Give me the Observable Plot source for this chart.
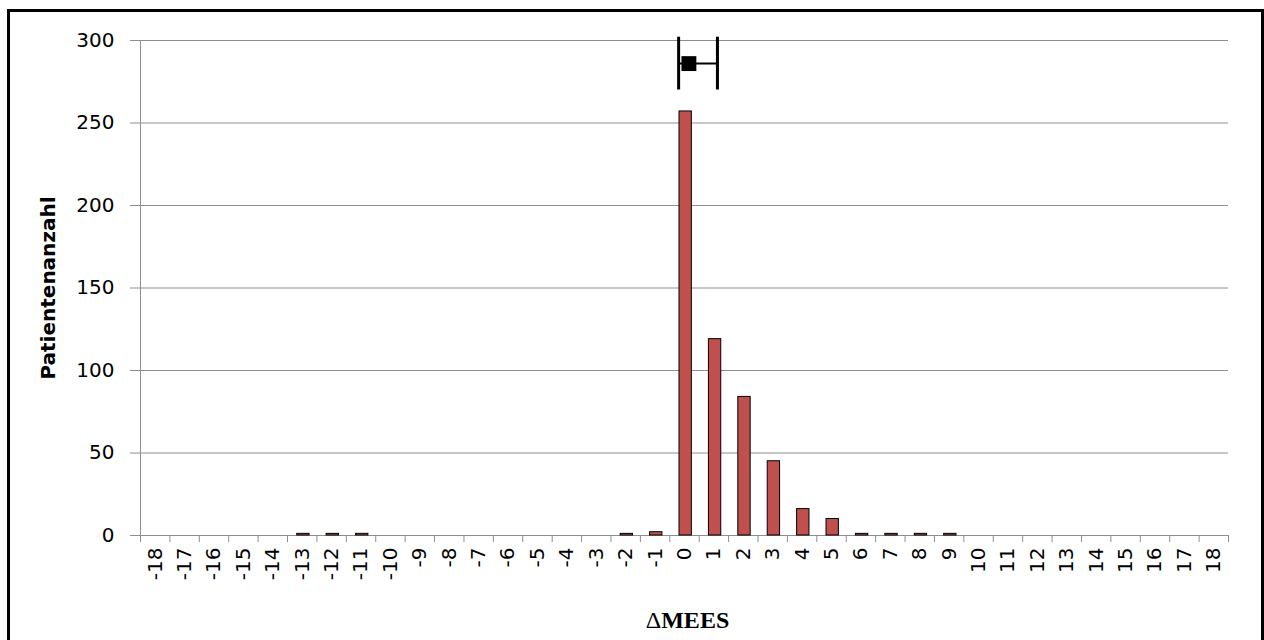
<!DOCTYPE html>
<html>
<head>
<meta charset="utf-8">
<script src="https://cdn.jsdelivr.net/npm/d3@7"></script>
<script src="https://cdn.jsdelivr.net/npm/@observablehq/plot@0.6"></script>
<style>
html, body { margin: 0; padding: 0; overflow: hidden; background: #fff; }
#chart { position: absolute; left: 0; top: 0; }
#border { position: absolute; left: 7px; top: 9px; width: 1257px; height: 700px; box-sizing: border-box; border: 3px solid #000; pointer-events: none; }
</style>
</head>
<body>
<div id="chart"></div>
<div id="border"></div>
<script>
// Categories (ΔMEES) and patient counts
const categories = d3.range(-18, 19);
const barX = [-13, -12, -11, -2, -1, 0, 1, 2, 3, 4, 5, 6, 7, 8, 9];
const barCount = [1, 1, 1, 1, 2, 257, 119, 84, 45, 16, 10, 1, 1, 1, 1];
const yTicks = [0, 50, 100, 150, 200, 250, 300];
// Summary marker with interval
const summaryX = [0.15];
const summaryLo = [-0.2];
const summaryHi = [1.12];
const summaryY = [286];
const capLo = [270];
const capHi = [302];

const bars = barX.map((x, i) => ({x, count: barCount[i]}));
const boundaries = d3.range(-18.5, 19, 1);
const summary = summaryX.map((x, i) => ({x, lo: summaryLo[i], hi: summaryHi[i], y: summaryY[i], c1: capLo[i], c2: capHi[i]}));

const gray = "#8e8e8e";

const chart = Plot.plot({
  width: 1264,
  height: 640,
  marginLeft: 140,
  marginRight: 36,
  marginTop: 40,
  marginBottom: 105,
  style: {fontFamily: "DejaVu Sans", fontSize: "20px", background: "transparent"},
  x: {type: "linear", domain: [-18.5, 18.5]},
  y: {domain: [0, 300]},
  marks: [
    Plot.gridY(yTicks, {stroke: gray, strokeOpacity: 1, strokeWidth: 1}),
    Plot.axisY(yTicks, {tickSize: 10, tickPadding: 16, fontSize: 20, stroke: gray, fill: "#000", label: null}),
    Plot.ruleX([-18.5], {y1: 0, y2: 300, stroke: gray}),
    Plot.axisX(boundaries, {tickSize: 7, tickFormat: () => "", stroke: gray, label: null}),
    Plot.text(categories, {x: d => d, y: 0, text: d => String(d), rotate: -90, textAnchor: "end", lineAnchor: "middle", dy: 12, fontSize: 20, fill: "#000"}),
    Plot.rectY(bars, {x1: d => d.x - 0.17, x2: d => d.x + 0.25, y: "count", fill: "#c0504d", stroke: "#000", strokeWidth: 1}),
    Plot.ruleY(summary, {x1: "lo", x2: "hi", y: "y", stroke: "#000", strokeWidth: 2}),
    Plot.ruleX(summary, {x: "lo", y1: "c1", y2: "c2", stroke: "#000", strokeWidth: 3}),
    Plot.ruleX(summary, {x: "hi", y1: "c1", y2: "c2", stroke: "#000", strokeWidth: 3}),
    Plot.dot(summary, {x: "x", y: "y", symbol: "square", r: 8.4, fill: "#000", stroke: "none"}),
    Plot.text(["Patientenanzahl"], {frameAnchor: "left", dx: -92, rotate: -90, lineAnchor: "middle", textAnchor: "middle", fontWeight: "bold", fontSize: 20, fill: "#000"}),
    Plot.text(["ΔMEES"], {frameAnchor: "bottom", dx: 3, dy: 92, lineAnchor: "bottom", textAnchor: "middle", fontFamily: "Liberation Serif", fontWeight: "bold", fontSize: 24, fill: "#000"})
  ]
});
document.getElementById("chart").appendChild(chart);

// render the delta in lighter weight, as in the original
d3.select(chart).selectAll("text").filter(function() { return this.textContent === "ΔMEES"; })
  .each(function() {
    const t = d3.select(this);
    t.text(null);
    t.append("tspan").attr("font-weight", "normal").text("Δ");
    t.append("tspan").text("MEES");
  });
</script>
</body>
</html>
